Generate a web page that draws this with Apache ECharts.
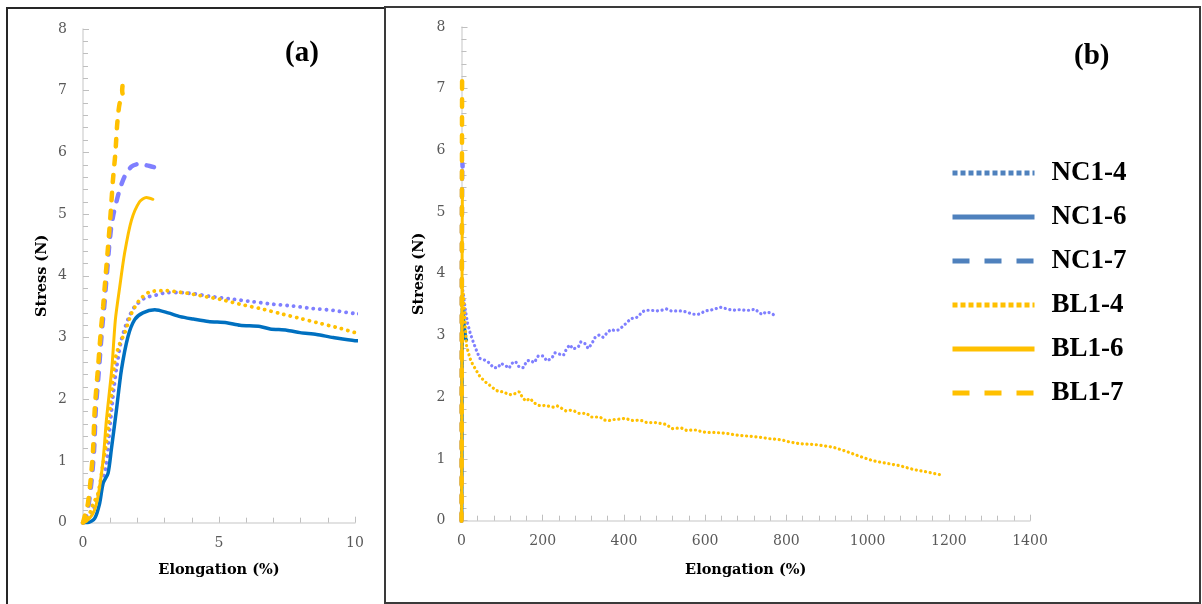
<!DOCTYPE html>
<html>
<head>
<meta charset="utf-8">
<script src="https://cdn.jsdelivr.net/npm/echarts@6/dist/echarts.min.js"></script>
<style>
html,body{margin:0;padding:0;background:#fff;}
#chart{width:1202px;height:604px;}
</style>
</head>
<body>
<div id="chart"></div>
<script>
// ---- Data (Elongation %, Stress N) ----
const seriesNames = ['NC1-4', 'NC1-6', 'NC1-7', 'BL1-4', 'BL1-6', 'BL1-7'];

const NC1_4 = [[0,0],[0.2,0.06],[0.37,0.2],[0.5,0.38],[0.67,0.58],[0.86,0.96],[0.98,1.5],[1.1,2.04],[1.23,2.5],[1.41,2.96],[1.65,3.29],[1.9,3.5],[2.27,3.64],[2.7,3.69],[3.13,3.73],[3.5,3.73],[4.06,3.71],[4.79,3.66],[5.53,3.62],[6.26,3.58],[7.0,3.54],[7.73,3.51],[8.46,3.47],[9.2,3.44],[10,3.39],
  [15,3.2],[21,3.05],[27,2.93],[35,2.79],[45,2.63],[58,2.60],[70,2.55],[78,2.48],[90,2.48],[97,2.55],[109,2.51],[117,2.47],[124,2.55],[133,2.58],[142,2.49],[152,2.48],[161,2.59],[169,2.60],[179,2.56],[189,2.67],[201,2.67],[210,2.59],[222,2.63],[230,2.72],[241,2.70],[251,2.68],[259,2.79],[267,2.85],[275,2.78],[288,2.82],[294,2.90],[304,2.87],[312,2.79],[321,2.87],[329,2.97],[339,3.01],[349,2.97],[358,3.04],[368,3.10],[378,3.08],[386,3.09],[396,3.14],[407,3.21],[418,3.28],[427,3.28],[436,3.31],[444,3.38],[454,3.41],[464,3.41],[481,3.40],[493,3.41],[505,3.43],[516,3.40],[530,3.40],[542,3.40],[555,3.38],[567,3.35],[579,3.34],[587,3.35],[600,3.40],[612,3.41],[624,3.43],[637,3.46],[649,3.44],[661,3.42],[674,3.41],[686,3.42],[698,3.41],[711,3.41],[723,3.43],[733,3.37],[741,3.34],[749,3.38],[760,3.37],[768,3.34]];

const NC1_6 = [[0,0],[0.18,0],[0.43,0.07],[0.61,0.31],[0.74,0.64],[0.92,0.8],[1.04,1.18],[1.23,1.83],[1.41,2.47],[1.65,3.01],[1.9,3.29],[2.2,3.40],[2.64,3.45],[3.13,3.40],[3.57,3.34],[4.06,3.30],[4.61,3.26],[5.28,3.24],[5.77,3.20],[6.51,3.18],[6.88,3.14],[7.49,3.12],[7.98,3.08],[8.59,3.05],[9.2,3.0],[10,2.95],[12,2.93]];

const NC1_7 = [[0,0],[0.1,0.08],[0.21,0.3],[0.32,0.7],[0.41,1.2],[0.47,1.83],[0.59,2.5],[0.65,2.85],[0.71,3.18],[0.78,3.5],[0.84,3.83],[0.9,4.15],[0.96,4.47],[1.04,4.8],[1.12,5.0],[1.2,5.15],[1.35,5.4],[1.53,5.61],[1.78,5.77],[2.02,5.81],[2.45,5.78],[2.76,5.74]];

const BL1_4 = [[0,0],[0.2,0.1],[0.37,0.3],[0.55,0.47],[0.74,0.96],[0.89,1.39],[1.04,2.04],[1.18,2.64],[1.35,2.9],[1.53,3.07],[1.78,3.39],[2.08,3.61],[2.45,3.74],[3.0,3.76],[3.81,3.72],[4.55,3.66],[5.04,3.62],[5.77,3.54],[6.51,3.47],[7.24,3.39],[7.98,3.31],[8.71,3.23],[9.45,3.15],[10,3.08],
  [12,2.85],[17,2.72],[21,2.63],[27,2.54],[35,2.45],[46,2.33],[54,2.28],[62,2.23],[73,2.18],[83,2.12],[93,2.09],[103,2.09],[114,2.05],[124,2.04],[132,2.06],[142,2.09],[150,2.0],[158,1.94],[169,1.98],[179,1.91],[189,1.87],[197,1.86],[207,1.87],[218,1.85],[226,1.84],[236,1.86],[247,1.82],[257,1.78],[267,1.79],[277,1.78],[289,1.74],[300,1.74],[308,1.74],[319,1.68],[330,1.68],[341,1.68],[352,1.63],[362,1.62],[372,1.64],[382,1.64],[394,1.65],[404,1.66],[415,1.63],[425,1.62],[435,1.63],[445,1.62],[456,1.59],[468,1.59],[481,1.59],[493,1.57],[505,1.56],[518,1.49],[530,1.50],[542,1.50],[555,1.46],[567,1.47],[579,1.47],[592,1.44],[608,1.43],[625,1.43],[641,1.42],[657,1.41],[674,1.39],[690,1.38],[706,1.37],[723,1.36],[739,1.35],[756,1.33],[772,1.32],[789,1.31],[805,1.28],[830,1.25],[875,1.23],[916,1.19],[949,1.12],[982,1.04],[1014,0.97],[1047,0.93],[1080,0.89],[1113,0.83],[1146,0.79],[1183,0.74]];

const BL1_6 = [[0,0],[0.12,0.02],[0.37,0.15],[0.55,0.42],[0.74,1.02],[0.86,1.66],[1.06,2.5],[1.19,3.29],[1.35,3.82],[1.53,4.37],[1.78,4.9],[2.08,5.2],[2.33,5.27],[2.57,5.24]];

const BL1_7 = [[0,0],[0.06,0.1],[0.18,0.31],[0.28,0.69],[0.37,1.18],[0.43,1.83],[0.55,2.5],[0.61,2.85],[0.67,3.18],[0.74,3.5],[0.8,3.83],[0.86,4.15],[0.92,4.47],[0.98,4.8],[1.03,5.1],[1.1,5.55],[1.19,5.99],[1.26,6.47],[1.35,6.8],[1.47,6.9],[1.44,7.0],[1.47,7.15]];

const seriesData = [NC1_4, NC1_6, NC1_7, BL1_4, BL1_6, BL1_7];

// ticks
const xTicksA = {min: 0, max: 10, interval: 5};
const xTicksB = {min: 0, max: 1400, interval: 200};
const yTicks = {min: 0, max: 8, interval: 1};

// ---- styles ----
const PURPLE = '#7F7FFF', BLUE = '#0070C0', ORANGE = '#FFC000';
const lineColors = [PURPLE, BLUE, PURPLE, ORANGE, ORANGE, ORANGE];
const kinds = ['dot', 'solid', 'dash', 'dot', 'solid', 'dash'];
const legendColors = ['#4F81BD', '#4F81BD', '#4F81BD', ORANGE, ORANGE, ORANGE];

function lineStyleFor(i, panel) {
  const k = kinds[i];
  if (k === 'dot') return {color: lineColors[i], width: panel === 0 ? 3.8 : 3.2, type: panel === 0 ? [0.1, 6.5] : [0.1, 4.6], cap: 'round'};
  if (k === 'dash') return {color: lineColors[i], width: 4.5, type: [7.5, 10.5], cap: 'round'};
  return {color: lineColors[i], width: i === 1 ? 3.5 : 3, type: 'solid', cap: 'round'};
}

const labelFont = {fontFamily: 'DejaVu Serif', fontSize: 14, color: '#595959'};
const nameFont = {fontFamily: 'DejaVu Serif', fontWeight: 'bold', fontSize: 14.5, color: '#000'};
const axisLine = {show: true, lineStyle: {color: '#D9D9D9', width: 1.5}};
const axisTick = {show: true, inside: true, length: 6, lineStyle: {color: '#BFBFBF', width: 1}};
const minorTick = {show: true, splitNumber: 5, length: 5, lineStyle: {color: '#BFBFBF', width: 1}};
const plainNum = function (v) { return String(v); };

function xAxis(grid, t, gap) {
  return {type: 'value', gridIndex: grid, min: t.min, max: t.max, interval: t.interval,
    name: 'Elongation (%)', nameLocation: 'middle', nameGap: gap, nameTextStyle: nameFont,
    axisLine, axisTick, minorTick, splitLine: {show: false},
    axisLabel: Object.assign({margin: 14, formatter: plainNum}, labelFont)};
}
function yAxis(grid, gap) {
  return {type: 'value', gridIndex: grid, min: yTicks.min, max: yTicks.max, interval: yTicks.interval,
    name: 'Stress (N)', nameLocation: 'middle', nameGap: gap, nameTextStyle: nameFont,
    axisLine, axisTick, minorTick, splitLine: {show: false},
    axisLabel: Object.assign({margin: 16, formatter: plainNum}, labelFont)};
}

const series = [];
[0, 1].forEach(function (p) {
  seriesNames.forEach(function (n, i) {
    series.push({
      name: n, type: 'line', xAxisIndex: p, yAxisIndex: p,
      data: seriesData[i], symbol: 'none', showSymbol: false, smooth: p === 0 ? 0.25 : false,
      lineStyle: lineStyleFor(i, p), itemStyle: {color: lineColors[i]},
      clip: true
    });
  });
});

const legendData = seriesNames.map(function (n, i) {
  const k = kinds[i];
  const dash = k === 'dot' ? [5, 3] : (k === 'dash' ? [17, 15] : 'solid');
  return {name: n, icon: 'line',
    itemStyle: {color: legendColors[i], borderColor: legendColors[i], borderWidth: 5, borderType: dash, borderCap: 'butt'},
    lineStyle: {color: legendColors[i], width: 5, type: dash}};
});

const chart = echarts.init(document.getElementById('chart'), null, {renderer: 'canvas'});
chart.setOption({
  animation: false,
  backgroundColor: '#ffffff',
  grid: [
    {left: 83, right: 847, top: 29, bottom: 81.3},
    {left: 461.5, right: 172, top: 27, bottom: 83.3}
  ],
  xAxis: [xAxis(0, xTicksA, 40), xAxis(1, xTicksB, 42)],
  yAxis: [yAxis(0, 33), yAxis(1, 35)],
  legend: {
    orient: 'vertical', left: 950, top: 159.5, padding: 0,
    itemWidth: 82, itemHeight: 27, itemGap: 17,
    textStyle: {fontFamily: 'Liberation Serif', fontWeight: 'bold', fontSize: 27, color: '#000', padding: [0, 0, 0, 12]},
    data: legendData
  },
  graphic: [
    {type: 'rect', shape: {x: 7, y: 8, width: 378, height: 610}, style: {fill: null, stroke: '#262626', lineWidth: 2}, z: 0},
    {type: 'rect', shape: {x: 385, y: 7, width: 815, height: 596}, style: {fill: null, stroke: '#3a3a3a', lineWidth: 2}, z: 0},
    {type: 'text', left: 285, top: 39, style: {text: '(a)', font: 'bold 29px "Liberation Serif"', fill: '#000'}},
    {type: 'text', left: 1074, top: 42, style: {text: '(b)', font: 'bold 29px "Liberation Serif"', fill: '#000'}}
  ],
  series: series
});
</script>
</body>
</html>
